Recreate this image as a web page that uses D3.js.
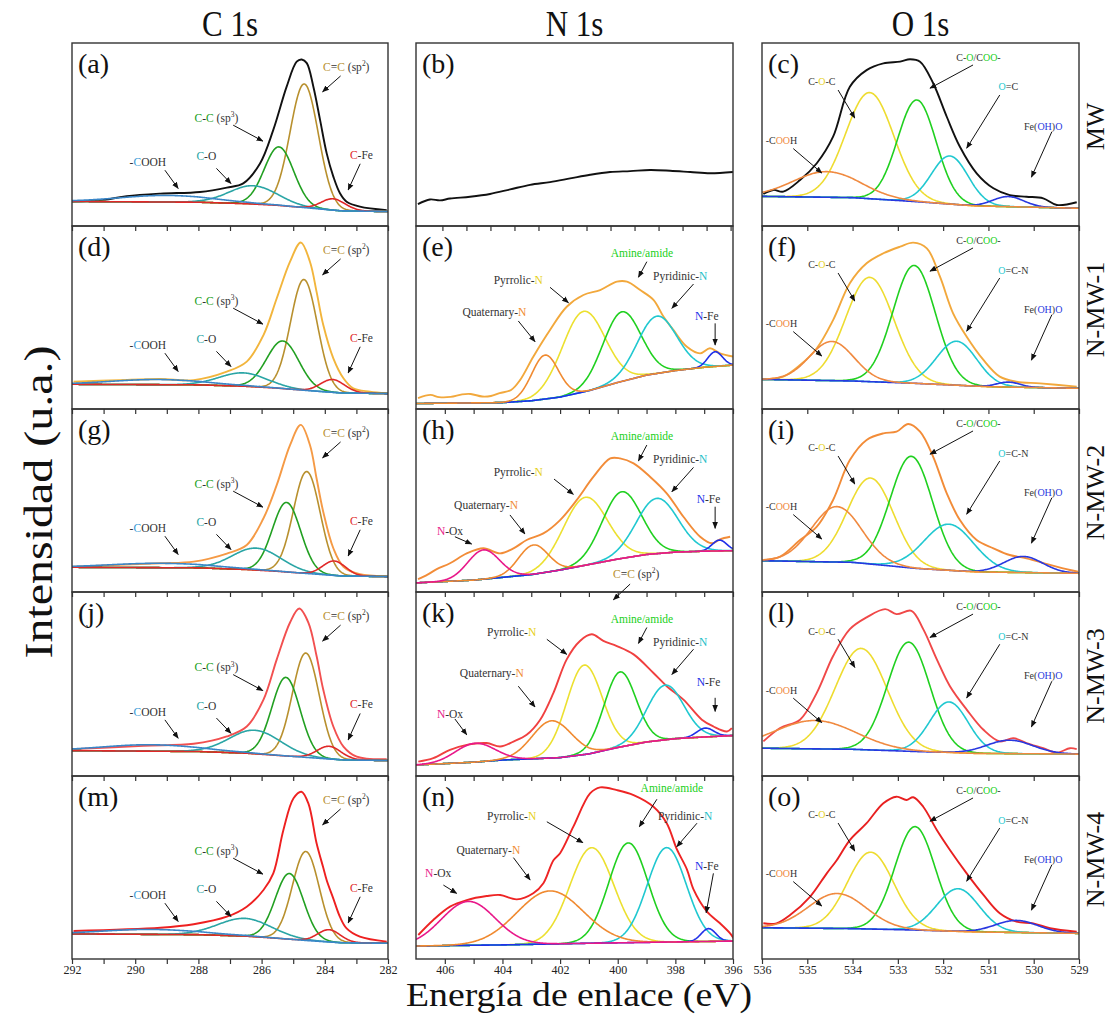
<!DOCTYPE html>
<html>
<head>
<meta charset="utf-8">
<script src="https://cdn.jsdelivr.net/npm/d3@7"></script>
<style>
  body { margin: 0; background: #fff; }
  svg { display: block; }
  text { font-family: "Liberation Serif", "Times New Roman", serif; }
</style>
</head>
<body>
<svg id="chart" width="1111" height="1014"></svg>
<script>
// ---------- data ----------
// intensities are in % of each panel's height (0 = panel bottom)
const columnTitles = ['C 1s', 'N 1s', 'O 1s'];
const sampleNames = ['MW', 'N-MW-1', 'N-MW-2', 'N-MW-3', 'N-MW-4'];
const panelLetters = ['a','b','c','d','e','f','g','h','i','j','k','l','m','n','o'];

const c1Ticks = [292, 291, 290, 289, 288, 287, 286, 285, 284, 283, 282];
const c1Labels = [292, 290, 288, 286, 284, 282];
const c2Ticks = [406, 405, 404, 403, 402, 401, 400, 399, 398, 397, 396];
const c2Labels = [406, 404, 402, 400, 398, 396];
const c3Ticks = [536, 535, 534, 533, 532, 531, 530, 529];
const bTicks = [408, 407, 406, 405, 404, 403, 402, 401, 400, 399, 398, 397, 396];

// measured spectra [eV, intensity]
const envA = [[292,13.3],[291,14.3],[290.27,16.3],[289.2,17.7],[287.95,18.6],[287.1,21],[286.58,23.3],[286.05,34.2],[285.63,52.5],[285.21,76],[284.89,89.8],[284.73,91],[284.57,89],[284.36,76],[284.15,58],[283.94,39.7],[283.73,27],[283.52,17.9],[283.31,13.3],[282.89,10.6],[282.04,8.7]];
const envD = [[291.95,14.9],[290.5,15.8],[289.2,16.4],[288.15,15.8],[287.1,20.4],[286.47,25.9],[285.94,40.4],[285.52,60.5],[285.1,80.5],[284.76,91],[284.47,80.5],[284.26,64],[284.05,46],[283.73,27.7],[283.41,16.8],[283.1,11.3],[282.57,9.5],[282.04,8.6]];
const envG = [[291.95,13.8],[290.5,14.8],[289.2,15.7],[288.15,16.6],[287.1,21],[286.47,25.7],[285.94,40.3],[285.52,58.5],[285.1,80.3],[284.76,91.3],[284.47,80.3],[284.26,62],[284.05,43.9],[283.73,23.9],[283.41,13.8],[282.89,9.7],[282.04,8.7]];
const envJ = [[291.95,14.6],[289.74,16.4],[288.15,17.5],[287.1,21.5],[286.47,26.9],[285.94,41.5],[285.52,63.4],[285.1,83.4],[284.81,91],[284.52,83.4],[284.26,65.2],[284.05,47],[283.73,26.9],[283.41,16],[282.99,10.5],[282.04,9.1]];
const envM = [[291.95,15.3],[289.2,17.1],[288.15,19],[287.1,23.1],[286.47,28.6],[285.94,37.7],[285.63,46.8],[285.31,70.5],[284.99,87.8],[284.74,91.4],[284.52,85],[284.26,63.2],[284.05,50],[283.94,43],[283.73,33],[283.52,23],[283.31,16.7],[282.89,12.2],[282.04,9.5]];

const envB = [[409.02,12],[408.52,14.5],[408.1,14],[407.68,15],[406.85,16],[406.02,17.5],[405.18,20],[404.35,22.5],[403.52,24],[402.68,26],[401.85,28],[401.02,29.5],[400.18,30],[399.35,30.6],[398.52,30.2],[397.68,29.5],[396.85,28.8],[395.9,29.5]];
const envE = [[406.93,6],[406.5,7.7],[406.2,6.5],[405.8,6.6],[405.4,8],[405.1,8.2],[404.7,6.8],[404.4,7.1],[404.1,8.7],[403.7,10.4],[403.39,15.8],[402.93,28.6],[402.35,43.2],[401.77,55.9],[401.19,62.3],[400.61,65],[400.03,69.6],[399.68,69.6],[399.22,65],[398.76,59.6],[398.41,50.4],[398.07,43.2],[397.6,34],[397.14,30.4],[396.8,33.2],[396.45,30.4],[395.98,28.6]];
const envH = [[406.93,7],[406.6,9.5],[406.28,12.5],[405.82,15.7],[405.24,21.1],[404.66,23.9],[404.08,21.1],[403.6,24],[403.16,28.4],[402.58,32],[402,39.3],[401.42,50.3],[400.84,63],[400.26,73],[399.92,73],[399.45,70.3],[398.88,63],[398.3,53.9],[397.72,41.1],[397.14,30.2],[396.73,26.6],[396.45,28.8],[396.1,30.2]];
const envK = [[406.92,7.8],[406.4,9.7],[405.82,14.2],[405.24,16.9],[404.55,17.9],[404.08,16],[403.62,18.7],[403.16,22.4],[402.69,30.6],[402.23,45.2],[401.77,63.4],[401.31,73.4],[400.9,77],[400.5,73.4],[400.03,70.6],[399.45,66.1],[398.76,56],[398.3,48.8],[397.72,41.5],[397.08,30.6],[396.68,26.9],[396.21,24.2],[396.04,26]];
const envN = [[406.92,13.1],[406.4,21.3],[405.82,28.6],[405.24,32.2],[404.55,34.4],[404.08,35],[403.5,32.6],[402.93,35.9],[402.58,41.4],[402.23,54],[402,57.8],[401.54,72.3],[400.96,90.5],[400.61,93.8],[400.03,92.3],[399.45,89.6],[398.76,83.2],[398.3,74.2],[397.95,60],[397.6,49],[397.37,38],[396.91,26],[396.45,19.5],[396.1,14],[395.98,11.3]];

const envC = [[535.97,17.5],[535.75,19.7],[535.53,18.8],[535.16,25.1],[534.79,34.3],[534.43,48.8],[534.06,76.1],[533.69,85.2],[533.32,88.9],[532.95,89.8],[532.73,91.1],[532.51,89.8],[532.22,78],[531.92,59.7],[531.63,43.3],[531.26,28.8],[530.89,20.6],[530.53,16.9],[530.16,16],[529.79,15.1],[529.49,11.5],[529.05,13]];
const envF = [[535.97,16.2],[535.53,17.7],[535.16,24],[534.79,33.2],[534.43,48.6],[534.06,68.7],[533.69,79.6],[533.32,85.1],[532.95,88.7],[532.66,90.9],[532.36,87.8],[532.07,72.3],[531.78,52.3],[531.48,39.5],[531.11,26.8],[530.75,17.7],[530.38,14.9],[529.86,14],[529.05,12.2]];
const envI = [[535.97,17.5],[535.6,19.3],[535.16,28.4],[534.79,35.7],[534.43,50.3],[534.06,72.1],[533.69,83.1],[533.32,86.7],[533.03,87.6],[532.77,91.8],[532.51,87.6],[532.22,73.9],[531.92,53.9],[531.63,39.3],[531.26,28.4],[530.89,23.9],[530.53,20.2],[530.16,18.4],[529.64,14.8],[529.2,12],[529.02,11.1]];
const envL = [[535.97,18.8],[535.6,26.1],[535.16,30.6],[534.79,45.2],[534.43,65.2],[534.06,79.8],[533.69,86.2],[533.28,90.7],[533.03,88],[532.7,89.8],[532.44,79.8],[532.14,63.4],[531.85,48.8],[531.48,36.1],[531.11,25.1],[530.75,18.8],[530.45,20.6],[530.16,17.9],[529.79,15.1],[529.49,12.7],[529.2,15.1],[529.05,14.6]];
const envO = [[535.97,19.5],[535.68,19.5],[535.38,24],[534.94,34],[534.57,46.8],[534.35,54],[534.06,65],[533.69,74.2],[533.32,85.1],[533.03,88.7],[532.81,86.9],[532.66,88.4],[532.44,83.2],[532.14,70.5],[531.85,59.6],[531.48,46.8],[531.11,35],[530.75,25],[530.38,20.4],[530.01,19.5],[529.64,16.8],[529.05,14.9]];

// Shirley backgrounds [eV, intensity]
const bgA = [[292,13.4],[288,13],[286.5,12.2],[285.5,11.3],[284.5,9.8],[283.5,8.3],[282,7.9]];
const bgD = [[292,13.5],[288,13.2],[286.5,12.4],[285.5,11.4],[284.5,10],[283.5,8.8],[282,8.4]];
const bgG = [[292,13.5],[288,13.2],[286.5,12.3],[285.5,11.3],[284.5,10],[283.5,8.8],[282,8.4]];
const bgJ = [[292,13.8],[288,13.3],[286.5,12.4],[285.5,11.2],[284.5,10],[283.5,8.8],[282,8.4]];
const bgM = [[292,13.7],[288,13.3],[286.5,12.5],[285.5,11.3],[284.5,10],[283.5,8.9],[282,8.6]];
const bgE = [[407,3],[404,3.5],[403,4.5],[402,6.5],[401,10],[400,14.5],[399,18.5],[398,21],[397,22.8],[396,24]];
const bgH = [[407,5],[405,6.5],[404,8],[403,9.5],[402,12],[401,15],[400,18],[399,20.5],[398,21.8],[397,22.3],[396,22.6]];
const bgK = [[407,6],[405,7.5],[404,8.7],[403,9.3],[402,10],[401,12],[400,15.5],[399,18.5],[398,20.3],[397,21.2],[396,22]];
const bgN = [[407,7.1],[404,7.7],[401,8.6],[396,9.8]];
const bgC = [[536,16.2],[534,15.5],[532.6,13.3],[531.3,11],[529,9.7]];
const bgF = [[536,16.2],[534,15.3],[532.6,14],[531,12.2],[529,11.3]];
const bgI = [[536,17.1],[534,16.2],[532.6,12.9],[531.3,11],[529,10.2]];
const bgL = [[536,15.1],[534,14.5],[532.6,13.3],[531.3,12.3],[529,11.9]];
const bgO = [[536,17.1],[534,16.6],[532.6,15.8],[531.3,14.8],[529,14]];

// fitted peaks [centre eV, height above background, FWHM eV]
// C 1s order: -COOH, C-O, C-C sp3, C=C sp2, C-Fe
const fitA = [[289.0,3.6,3.5],[286.26,10,1.8],[285.45,32,1.1],[284.65,67.6,1.05],[283.73,6.2,0.9]];
const fitD = [[289.3,2.8,3.5],[286.58,7.3,1.8],[285.33,26,1.2],[284.66,60.5,1.0],[283.75,7,0.9]];
const fitG = [[289.2,2.4,3.8],[286.16,12,1.8],[285.21,38,1.05],[284.57,55.7,1.0],[283.7,7.9,0.85]];
const fitJ = [[289.5,3.5,3.6],[286.21,12.8,1.9],[285.23,42.7,1.05],[284.6,56.7,1.0],[283.86,6.9,0.9]];
const fitM = [[289.5,2.7,3.6],[286.53,9.7,2.0],[285.12,35.9,1.05],[284.6,48.6,1.0],[283.86,6.7,0.85]];
// N 1s order: N-Ox, Quaternary, Pyrrolic, Amine/amide, Pyridinic, N-Fe
const fitE = [null,[402.52,24,1.1],[401.19,44,1.75],[399.86,38,1.55],[398.64,31.3,1.6],[396.62,8,0.6]];
const fitH = [[404.66,16,1.3],[402.93,16,1.2],[401.13,37.1,1.8],[399.86,36.4,1.6],[398.64,30.2,1.7],[396.47,5.9,0.6]];
const fitK = [[404.95,10.2,1.6],[402.29,20.2,1.6],[401.16,48.6,1.45],[399.92,40.8,1.3],[398.35,29.7,1.5],[396.96,4.8,0.7]];
const fitN = [[405.18,24,2.2],[402.35,29,2.7],[400.9,52.2,1.8],[399.63,54.5,1.6],[398.3,51.6,1.6],[396.85,7,0.6]];
// O 1s order: -COOH, C-O-C, C-O/COO-, O=C(-N), Fe(OH)O
const fitC = [[534.57,14,1.75],[533.62,58,1.25],[532.58,55.6,1.0],[531.85,26.3,0.95],[530.56,5.5,0.8]];
const fitF = [[534.46,21.4,1.15],[533.62,57,1.25],[532.64,64.4,1.1],[531.7,24,1.05],[530.56,2.7,0.6]];
const fitI = [[534.35,30.3,1.3],[533.6,47,1.2],[532.7,61,1.1],[531.87,25.2,1.3],[530.23,8.8,1.0]];
const fitL = [[534.83,15.4,2.1],[533.81,55,1.35],[532.76,59.3,1.1],[531.87,27.5,1.0],[530.53,7.3,1.2]];
const fitO = [[534.34,19.1,1.5],[533.6,42,1.2],[532.62,56.5,1.05],[531.67,23.3,1.1],[530.38,6.6,1.1]];

// ---------- styles ----------
const K = '#333';
const c1Col = ['#3a86c8', '#2aa5a5', '#22a022', '#b8902e', '#e02828'];
const c2Col = ['#e8188a', '#f08a30', '#ece030', '#20d020', '#20c8d0', '#2030e8'];
const c3Col = ['#f08a40', '#eedc30', '#20d020', '#20c8d0', '#2838e0'];
const drawOrder = [[3, 2, 1, 4, 0], [2, 3, 4, 5, 1, 0], [1, 2, 3, 4, 0]];
const compColors = [c1Col, c2Col, c3Col];

const colX = [[72, 388], [416, 733], [762, 1079]];
const rowY = [43, 226, 409, 592, 776, 959];
const domains = [[292, 282], [407, 396], [536, 529]];

// annotation label pieces
const L1 = {
  cooh: [['-', K], ['C', '#3a9ad6'], ['OOH', K]],
  co: [['C', '#2aa5a5'], ['-O', K]],
  cc: [['C', '#22a022'], ['-', K], ['C', '#22a022'], [' (sp', K], ['3', K, 1], [')', K]],
  cc2: [['C', '#b8902e'], ['=', K], ['C', '#b8902e'], [' (sp', K], ['2', K, 1], [')', K]],
  cfe: [['C', '#e02828'], ['-Fe', K]]
};
const L2 = {
  amine: [['Amine/amide', '#20d020']],
  pyrr: [['Pyrrolic-', K], ['N', '#e6d020']],
  pyrid: [['Pyridinic-', K], ['N', '#20c0c8']],
  quat: [['Quaternary-', K], ['N', '#f08a30']],
  nox: [['N', '#e8188a'], ['-Ox', K]],
  nfe: [['N', '#2030e8'], ['-Fe', K]]
};
const L3 = {
  coo: [['C-', K], ['O', '#20d020'], ['/C', K], ['OO', '#20d020'], ['-', K]],
  coc: [['C-', K], ['O', '#e6d020'], ['-C', K]],
  oc: [['O', '#20c8d0'], ['=C', K]],
  ocn: [['O', '#20c8d0'], ['=C-N', K]],
  cooh: [['-C', K], ['OO', '#f08a40'], ['H', K]],
  fe: [['Fe(', K], ['OH', '#2838e0'], [')', K], ['O', '#2838e0']]
};

const annot1 = [
  {t: L1.cooh, at: [289.6, 35], a: [[289.06, 30.5], [288.64, 20.5]]},
  {t: L1.co, at: [287.75, 38], a: [[287.43, 31.5], [286.97, 23.2]]},
  {t: L1.cc, at: [287.43, 59], a: [[286.9, 55.1], [285.96, 46.4]]},
  {t: L1.cc2, at: [283.32, 87], a: [[283.5, 82], [284.07, 73.3]]},
  {t: L1.cfe, at: [282.84, 39], a: [[282.88, 34], [283.26, 19.7]]}
];
const annotE = [
  {t: L2.amine, at: [399.16, 85.4], a: [[398.99, 80.5], [399.28, 72]]},
  {t: L2.pyrr, at: [403.45, 70.5], a: [[402.35, 66.5], [401.71, 58.1]]},
  {t: L2.pyrid, at: [397.83, 72.7], a: [[397.37, 68.3], [398.12, 55]]},
  {t: L2.quat, at: [404.28, 53.2], a: [[403.45, 48.1], [402.87, 36.8]]},
  {t: L2.nfe, at: [396.91, 50.8], a: [[396.62, 46.8], [396.62, 35]]}
];
const annotH = [
  {t: L2.amine, at: [399.16, 85.2], a: [[398.99, 80.3], [399.28, 71.7]]},
  {t: L2.pyrr, at: [403.45, 65.7], a: [[402.21, 61.7], [401.54, 53.4]]},
  {t: L2.pyrid, at: [397.83, 72.7], a: [[397.37, 68.1], [398.12, 54.8]]},
  {t: L2.quat, at: [404.57, 47.5], a: [[403.74, 42.1], [403.22, 31.7]]},
  {t: L2.nox, at: [405.82, 33.5], a: [[405.65, 30.2], [405.07, 26.2]]},
  {t: L2.nfe, at: [396.85, 50.7], a: [[396.62, 46.6], [396.62, 34.8]]}
];
const annotK = [
  {t: L2.amine, at: [399.16, 85.6], a: [[398.99, 80.7], [399.28, 72.1]]},
  {t: L2.pyrr, at: [403.68, 78.3], a: [[402.46, 74.3], [401.77, 66.1]]},
  {t: L2.pyrid, at: [397.83, 72.8], a: [[397.37, 68.9], [398.12, 55.2]]},
  {t: L2.quat, at: [404.37, 56.1], a: [[403.45, 48.8], [402.87, 37.5]]},
  {t: L2.nox, at: [405.82, 33.9], a: [[405.65, 31], [405.24, 22.4]]},
  {t: L2.nfe, at: [396.85, 51], a: [[396.62, 42.5], [396.62, 35.1]]},
  {t: L1.cc2, at: [399.36, 109.8], a: [[399.57, 104.3], [400.15, 95.8]]}
];
const annotN = [
  {t: L2.amine, at: [398.12, 93.6], a: [[398.64, 87.3], [399.25, 72.3]]},
  {t: L2.pyrr, at: [403.68, 78.3], a: [[402.46, 75], [401.21, 63.6]]},
  {t: L2.pyrid, at: [397.66, 78.1], a: [[397.25, 74.2], [397.95, 61.4]]},
  {t: L2.quat, at: [404.49, 59.6], a: [[403.62, 55.4], [403.04, 43.2]]},
  {t: L2.nox, at: [406.23, 47.2], a: [[406.05, 40.4], [405.59, 35.9]]},
  {t: L2.nfe, at: [396.91, 50.8], a: [[396.68, 46.8], [396.93, 25.3]]}
];
const annot3 = oc => [
  {t: L3.coo, at: [531.22, 92.1], a: [[531.34, 88], [532.29, 75.3]]},
  {t: L3.coc, at: [534.68, 78.8], a: [[534.32, 74.3], [533.95, 59]]},
  oc ? {t: L3.oc, at: [530.56, 76.1], a: [[530.75, 71.6], [531.48, 42.5]]}
     : {t: L3.ocn, at: [530.45, 75.9], a: [[530.75, 71.6], [531.48, 42.5]]},
  {t: L3.cooh, at: [535.57, 46.7], a: [[535.31, 42.3], [534.68, 29]]},
  {t: L3.fe, at: [529.79, 54.5], a: [[529.6, 51.5], [530.05, 26.7]]}
];

const panels = [
  {col: 0, row: 0, env: envA, bg: bgA, fit: fitA, line: '#111', annot: annot1},
  {col: 1, row: 0, env: envB, line: '#111', annot: [], domain: [409.1, 395.9], ticks: bTicks},
  {col: 2, row: 0, env: envC, bg: bgC, fit: fitC, line: '#111', annot: annot3(true)},
  {col: 0, row: 1, env: envD, bg: bgD, fit: fitD, line: '#f2b53c', annot: annot1},
  {col: 1, row: 1, env: envE, bg: bgE, fit: fitE, line: '#f2a83c', annot: annotE},
  {col: 2, row: 1, env: envF, bg: bgF, fit: fitF, line: '#f2a83c', annot: annot3(false)},
  {col: 0, row: 2, env: envG, bg: bgG, fit: fitG, line: '#f59a45', annot: annot1},
  {col: 1, row: 2, env: envH, bg: bgH, fit: fitH, line: '#f28c38', annot: annotH},
  {col: 2, row: 2, env: envI, bg: bgI, fit: fitI, line: '#f28c38', annot: annot3(false)},
  {col: 0, row: 3, env: envJ, bg: bgJ, fit: fitJ, line: '#f25050', annot: annot1},
  {col: 1, row: 3, env: envK, bg: bgK, fit: fitK, line: '#f04040', annot: annotK},
  {col: 2, row: 3, env: envL, bg: bgL, fit: fitL, line: '#f04848', annot: annot3(false)},
  {col: 0, row: 4, env: envM, bg: bgM, fit: fitM, line: '#ee2020', annot: annot1},
  {col: 1, row: 4, env: envN, bg: bgN, fit: fitN, line: '#ee2424', annot: annotN},
  {col: 2, row: 4, env: envO, bg: bgO, fit: fitO, line: '#e82020', annot: annot3(false)}
];

// ---------- drawing ----------
const svg = d3.select('#chart');
const defs = svg.append('defs');
defs.append('marker')
  .attr('id', 'arrow')
  .attr('viewBox', '0 0 10 10')
  .attr('refX', 9).attr('refY', 5)
  .attr('markerWidth', 7).attr('markerHeight', 7)
  .attr('markerUnits', 'userSpaceOnUse')
  .attr('orient', 'auto')
  .append('path').attr('d', 'M0,1 L10,5 L0,9 z').attr('fill', '#111');

const gauss = (e, p) => p[1] * Math.exp(-4 * Math.LN2 * (e - p[0]) ** 2 / (p[2] * p[2]));

function addLabel(g, parts, x, y, size) {
  const t = g.append('text')
    .attr('x', x).attr('y', y + size * 0.35)
    .attr('text-anchor', 'middle')
    .attr('font-size', size);
  let raised = false;
  parts.forEach(p => {
    const s = t.append('tspan').text(p[0]).attr('fill', p[1]);
    if (p[2]) { s.attr('font-size', size * 0.65).attr('dy', -size * 0.4); raised = true; }
    else if (raised) { s.attr('dy', size * 0.4); raised = false; }
  });
}

panels.forEach((p, i) => {
  const [x0, x1] = colX[p.col];
  const top = rowY[p.row], bottom = rowY[p.row + 1];
  const x = d3.scaleLinear().domain(p.domain || domains[p.col]).range([x0, x1]);
  const y = d3.scaleLinear().domain([0, 100]).range([bottom, top]);
  const g = svg.append('g');

  const clipId = 'clip' + i;
  defs.append('clipPath').attr('id', clipId)
    .append('rect').attr('x', x0).attr('y', top).attr('width', x1 - x0).attr('height', bottom - top);
  const plot = g.append('g').attr('clip-path', `url(#${clipId})`);

  const envLine = d3.line()
    .x(d => x(d[0])).y(d => y(d[1]))
    .curve(d3.curveCatmullRom.alpha(0.5));
  plot.append('path').datum(p.env)
    .attr('d', envLine)
    .attr('fill', 'none').attr('stroke', p.line).attr('stroke-width', 1.9);

  if (p.fit) {
    const bgScale = d3.scaleLinear()
      .domain(p.bg.map(d => d[0])).range(p.bg.map(d => d[1])).clamp(true);
    const grid = x.ticks(400);
    const compLine = d3.line().x(d => x(d[0])).y(d => y(d[1]));
    drawOrder[p.col].forEach(k => {
      const pk = p.fit[k];
      if (!pk) return;
      const pts = grid.map(e => [e, bgScale(e) + gauss(e, pk)]);
      plot.append('path').datum(pts)
        .attr('d', compLine)
        .attr('fill', 'none')
        .attr('stroke', compColors[p.col][k])
        .attr('stroke-width', 1.6);
    });
  }

  // frame
  g.append('rect')
    .attr('x', x0).attr('y', top).attr('width', x1 - x0).attr('height', bottom - top)
    .attr('fill', 'none').attr('stroke', '#333').attr('stroke-width', 1.4);

  // bottom axis (outward ticks, labels only on last row)
  const ticks = p.ticks || [c1Ticks, c2Ticks, c3Ticks][p.col];
  const labels = [c1Labels, c2Labels, c3Ticks][p.col];
  const axis = d3.axisBottom(x).tickValues(ticks).tickSize(5).tickPadding(1)
    .tickFormat(d => (p.row === 4 && labels.includes(d)) ? d : '');
  const ax = g.append('g').attr('transform', `translate(0,${bottom})`).call(axis);
  ax.select('.domain').remove();
  ax.selectAll('line').attr('stroke', '#333').attr('stroke-width', 1.2);
  ax.selectAll('text')
    .attr('font-family', '"Liberation Serif", serif')
    .attr('font-size', 12).attr('fill', '#222');

  // panel letter
  g.append('text')
    .attr('x', x0 + 6).attr('y', top + 30)
    .attr('font-size', 28).attr('fill', '#111')
    .text('(' + panelLetters[i] + ')');

  // annotations
  const fs = p.col === 2 ? 10 : 11.5;
  p.annot.forEach(an => {
    addLabel(g, an.t, x(an.at[0]), y(an.at[1]), fs);
    g.append('line')
      .attr('x1', x(an.a[0][0])).attr('y1', y(an.a[0][1]))
      .attr('x2', x(an.a[1][0])).attr('y2', y(an.a[1][1]))
      .attr('stroke', '#111').attr('stroke-width', 1)
      .attr('marker-end', 'url(#arrow)');
  });
});

// column titles
columnTitles.forEach((t, c) => {
  const cx = (colX[c][0] + colX[c][1]) / 2;
  svg.append('text')
    .attr('transform', `translate(${cx},36) scale(1,1.15)`)
    .attr('text-anchor', 'middle')
    .attr('font-size', 31).attr('fill', '#111')
    .text(t);
});

// sample names on the right
sampleNames.forEach((t, r) => {
  const cy = (rowY[r] + rowY[r + 1]) / 2 - 8;
  svg.append('text')
    .attr('transform', `translate(1104,${cy}) rotate(-90)`)
    .attr('text-anchor', 'middle')
    .attr('font-size', 26).attr('fill', '#111')
    .text(t);
});

// axis titles
svg.append('text')
  .attr('transform', 'translate(52,502) rotate(-90) scale(1.2,1)')
  .attr('text-anchor', 'middle')
  .attr('font-size', 40).attr('fill', '#111')
  .text('Intensidad (u.a.)');

svg.append('text')
  .attr('transform', 'translate(579,1006) scale(1.11,1)')
  .attr('text-anchor', 'middle')
  .attr('font-size', 34).attr('fill', '#111')
  .text('Energía de enlace (eV)');
</script>
</body>
</html>
